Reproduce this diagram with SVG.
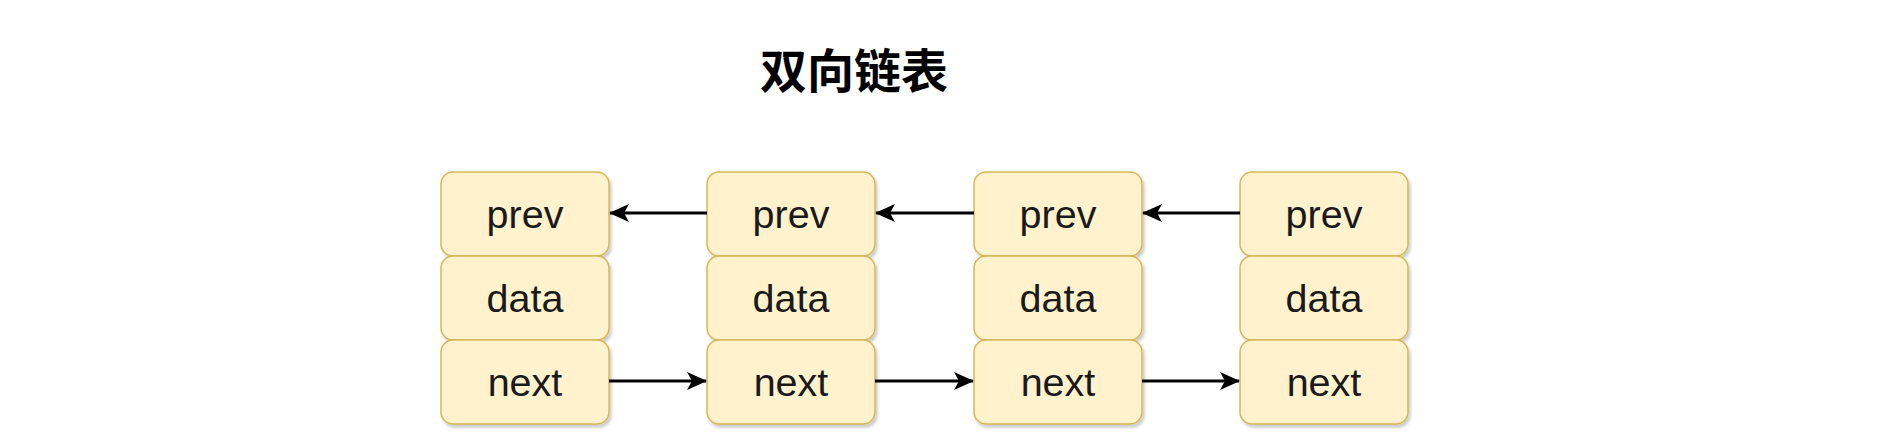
<svg xmlns="http://www.w3.org/2000/svg" width="1879" height="435" viewBox="0 0 1879 435">
<style>
.cell{fill:#fff2cc;stroke:#d6b656;stroke-width:1.5;filter:url(#sh)}
.lbl{font-family:"Liberation Sans",Arial,sans-serif;font-size:39.5px;fill:#1a1a1a;text-anchor:middle;dominant-baseline:central}
.title{font-family:"Noto Sans CJK SC","Liberation Sans",sans-serif;font-size:47px;font-weight:bold;fill:#000;text-anchor:middle;dominant-baseline:central}
.edge{stroke:#000;stroke-width:3;fill:none;marker-end:url(#arr)}
</style>
<defs>
<filter id="sh" x="-10%" y="-10%" width="130%" height="130%">
<feDropShadow dx="2" dy="3" stdDeviation="1.5" flood-color="#000" flood-opacity="0.2"/>
</filter>
<marker id="arr" viewBox="0 0 20 18" refX="19" refY="9" markerWidth="20" markerHeight="18" markerUnits="userSpaceOnUse" orient="auto">
<path d="M0,0 L20,9 L0,18 L5,9 Z" fill="#000"/>
</marker>
</defs>
<rect width="1879" height="435" fill="#fff"/>
<g id="title"><text class="title" x="854" y="67">双向链表</text></g>
<g id="node1">
<rect class="cell" x="441" y="172" width="168" height="84" rx="12"/><text class="lbl" x="525" y="214">prev</text>
<rect class="cell" x="441" y="256" width="168" height="84" rx="12"/><text class="lbl" x="525" y="298">data</text>
<rect class="cell" x="441" y="340" width="168" height="84" rx="12"/><text class="lbl" x="525" y="382">next</text>
</g>
<g id="node2">
<rect class="cell" x="707" y="172" width="168" height="84" rx="12"/><text class="lbl" x="791" y="214">prev</text>
<rect class="cell" x="707" y="256" width="168" height="84" rx="12"/><text class="lbl" x="791" y="298">data</text>
<rect class="cell" x="707" y="340" width="168" height="84" rx="12"/><text class="lbl" x="791" y="382">next</text>
</g>
<g id="node3">
<rect class="cell" x="974" y="172" width="168" height="84" rx="12"/><text class="lbl" x="1058" y="214">prev</text>
<rect class="cell" x="974" y="256" width="168" height="84" rx="12"/><text class="lbl" x="1058" y="298">data</text>
<rect class="cell" x="974" y="340" width="168" height="84" rx="12"/><text class="lbl" x="1058" y="382">next</text>
</g>
<g id="node4">
<rect class="cell" x="1240" y="172" width="168" height="84" rx="12"/><text class="lbl" x="1324" y="214">prev</text>
<rect class="cell" x="1240" y="256" width="168" height="84" rx="12"/><text class="lbl" x="1324" y="298">data</text>
<rect class="cell" x="1240" y="340" width="168" height="84" rx="12"/><text class="lbl" x="1324" y="382">next</text>
</g>
<g id="connectors">
<line class="edge" x1="707" y1="213" x2="610" y2="213"/>
<line class="edge" x1="974" y1="213" x2="876" y2="213"/>
<line class="edge" x1="1240" y1="213" x2="1143" y2="213"/>
<line class="edge" x1="609" y1="381" x2="706" y2="381"/>
<line class="edge" x1="875" y1="381" x2="973" y2="381"/>
<line class="edge" x1="1142" y1="381" x2="1239" y2="381"/>
</g>
</svg>
